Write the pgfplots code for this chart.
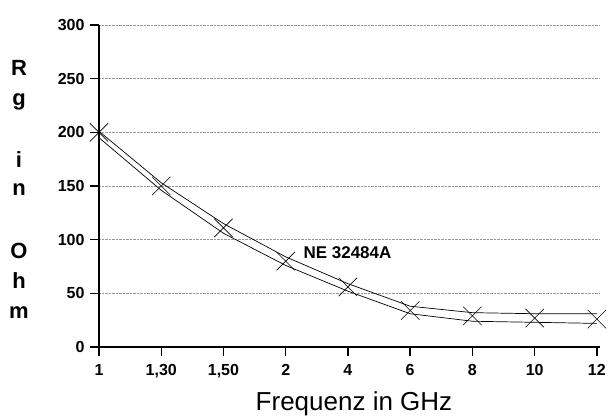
\documentclass[border=0pt]{standalone}
\usepackage{fontspec}
\setmainfont{Liberation Sans}
\usepackage{pgfplots}
\pgfplotsset{compat=1.18}
\begin{document}
\begin{tikzpicture}[x=1pt,y=1pt]
\useasboundingbox (0,0) rectangle (610,416);
\begin{axis}[
  at={(99pt,69pt)}, anchor=south west,
  scale only axis, width=501pt, height=322pt,
  xmin=0, xmax=8.05, ymin=0, ymax=300,
  axis lines=left,
  axis line style={-, line width=1.6pt, black},
  ymajorgrids,
  grid style={densely dotted, gray!80, line width=0.8pt},
  tick align=outside,
  major tick length=9pt,
  every tick/.style={black, line width=1.4pt},
  ytick={0,50,...,300},
  xtick={0,...,8},
  xticklabels={1,{1,30},{1,50},2,4,6,8,10,12},
  yticklabel style={font=\fontsize{16}{16}\selectfont\bfseries, /pgf/number format/assume math mode=true, xshift=-2pt},
  xticklabel style={font=\fontsize{16}{16}\selectfont\bfseries, yshift=-5pt},
  clip=false,
]
\addplot[black, line width=0.7pt] coordinates {(0,201) (1,153) (2,115) (3,84) (4,59) (5,38) (6,32) (7,31) (8,31)};
\addplot[black, line width=0.7pt] coordinates {(0,195) (1,146) (2,106) (3,76) (4,52) (5,31) (6,24) (7,23) (8,22)};
\addplot[only marks, mark=x, mark size=13pt, black, line width=0.6pt] coordinates {(0,200) (1,150) (2,111) (3,80) (4,56) (5,34) (6,29) (7,27) (8,26)};
\end{axis}
\node[anchor=base west, font=\fontsize{17}{17}\selectfont\bfseries] at (300,158) {NE 32484A};
\node[anchor=base, font=\fontsize{26}{26}\selectfont] at (354,6) {Frequenz in GHz};
\begin{scope}[every node/.style={anchor=base, font=\fontsize{22}{22}\selectfont\bfseries}]
\node at (19,341) {R};
\node at (19,311) {g};
\node at (19,249) {i};
\node at (19,221) {n};
\node at (19,158) {O};
\node at (19,128) {h};
\node at (19,98) {m};
\end{scope}
\end{tikzpicture}
\end{document}
